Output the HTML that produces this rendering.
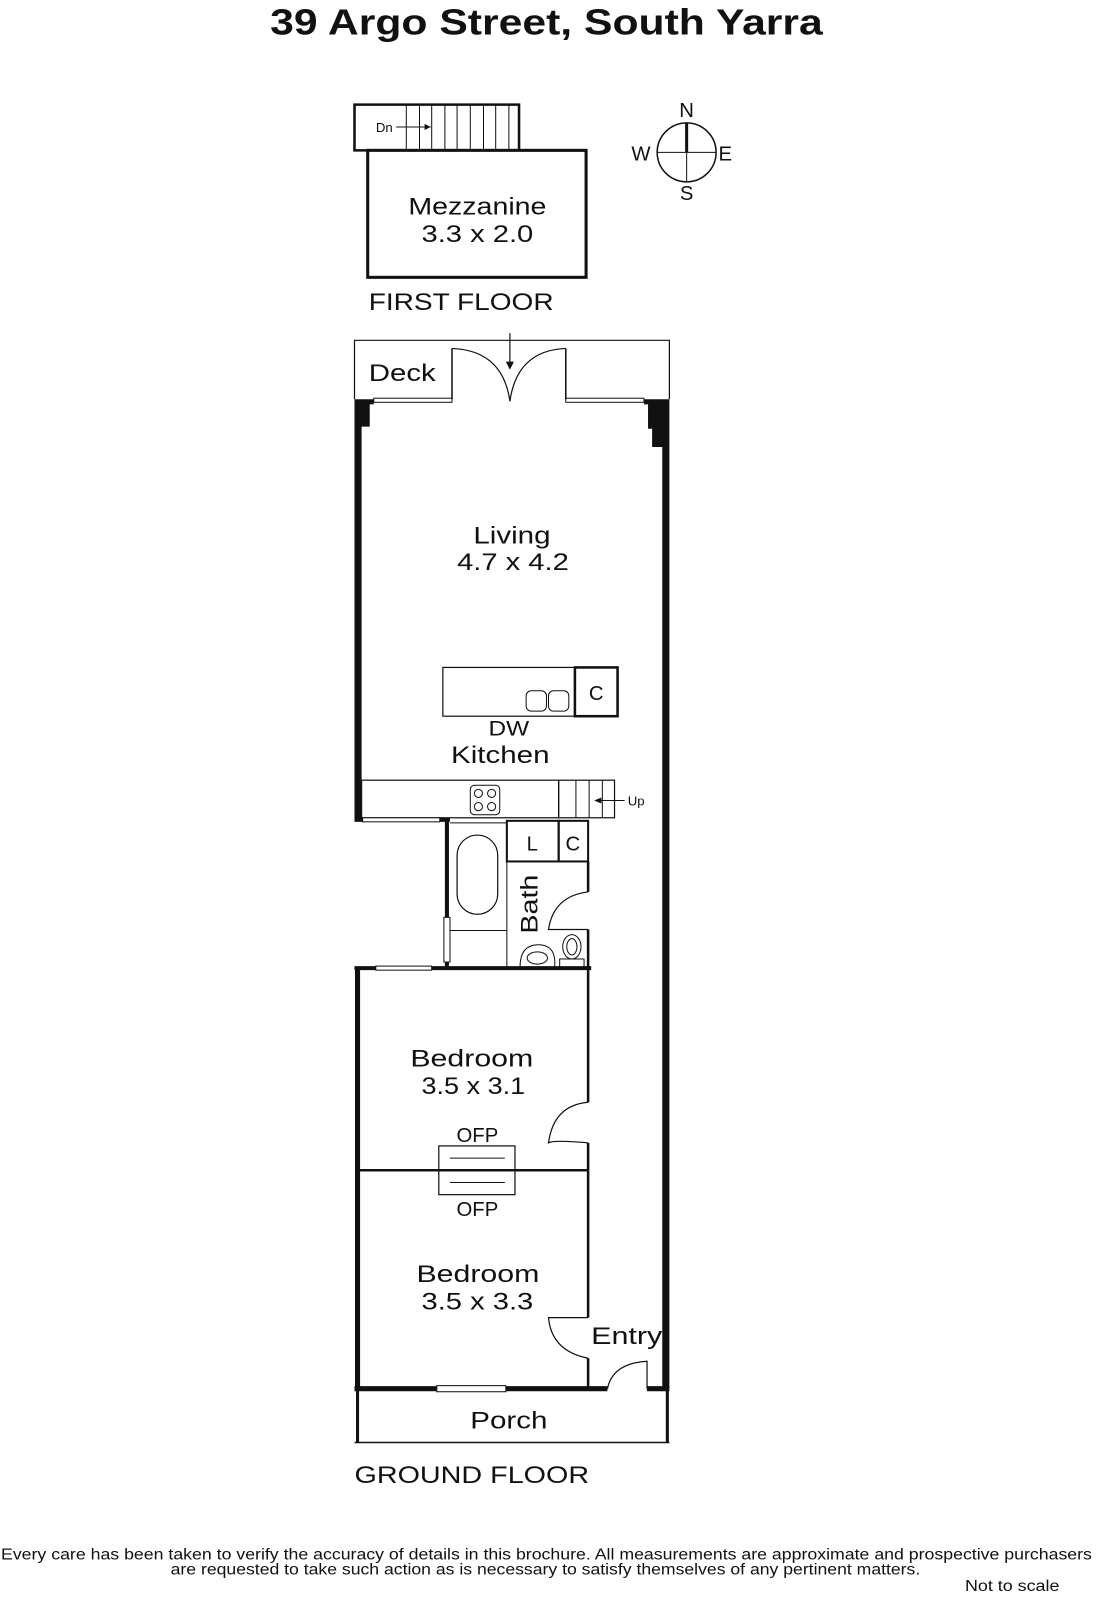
<!DOCTYPE html>
<html><head><meta charset="utf-8"><style>
html,body{margin:0;padding:0;background:#fff;}
svg{display:block;}
text{font-family:"Liberation Sans",sans-serif;fill:#111;}
</style></head><body>
<svg width="1097" height="1600" viewBox="0 0 1080 1575" preserveAspectRatio="none" xmlns="http://www.w3.org/2000/svg">
<g stroke="#111" fill="none">
<text x="266" y="34" font-size="36" font-weight="bold" stroke="none" textLength="544" lengthAdjust="spacingAndGlyphs">39 Argo Street, South Yarra</text>

<!-- Mezzanine -->
<polyline points="362,148 349,148 349,103 511,103 511,148" stroke-width="2.5"/>
<g stroke-width="1">
<line x1="400" y1="103" x2="400" y2="148"/><line x1="413" y1="103" x2="413" y2="148"/><line x1="425" y1="103" x2="425" y2="148"/><line x1="438" y1="103" x2="438" y2="148"/><line x1="450" y1="103" x2="450" y2="148"/><line x1="463" y1="103" x2="463" y2="148"/><line x1="476" y1="103" x2="476" y2="148"/><line x1="488" y1="103" x2="488" y2="148"/><line x1="501" y1="103" x2="501" y2="148"/>
<line x1="390" y1="125" x2="424" y2="125"/>
</g>
<polygon points="424,125 418,122 418,128" fill="#111" stroke="none"/>
<text x="370" y="130" font-size="13" stroke="none">Dn</text>
<rect x="362" y="148" width="215" height="125" stroke-width="3"/>
<text x="402" y="211" font-size="24" stroke="none" textLength="136" lengthAdjust="spacingAndGlyphs">Mezzanine</text>
<text x="415" y="238" font-size="24" stroke="none" textLength="110" lengthAdjust="spacingAndGlyphs">3.3 x 2.0</text>

<!-- Compass -->
<circle cx="676" cy="150" r="29" stroke-width="1.5"/>
<line x1="647" y1="150" x2="705" y2="150" stroke-width="1"/>
<line x1="676" y1="150" x2="676" y2="179" stroke-width="1"/>
<line x1="676" y1="121" x2="676" y2="150" stroke-width="3"/>
<text x="676" y="115" font-size="20" text-anchor="middle" stroke="none">N</text>
<text x="676" y="197" font-size="20" text-anchor="middle" stroke="none">S</text>
<text x="631" y="158" font-size="20" text-anchor="middle" stroke="none">W</text>
<text x="714" y="158" font-size="20" text-anchor="middle" stroke="none">E</text>

<text x="363" y="305" font-size="24" stroke="none" textLength="182" lengthAdjust="spacingAndGlyphs">FIRST FLOOR</text>

<!-- Deck -->
<polyline points="349,393 349,335 659,335 659,393" stroke-width="1.2"/>
<text x="363" y="375" font-size="24" stroke="none" textLength="66" lengthAdjust="spacingAndGlyphs">Deck</text>
<line x1="445" y1="343" x2="445" y2="393" stroke-width="1.5"/>
<line x1="557" y1="343" x2="557" y2="393" stroke-width="1.5"/>
<path d="M445,343 Q495,345 502,395 M557,343 Q509,345 502,395" stroke-width="1.2"/>
<line x1="502" y1="328" x2="502" y2="358" stroke-width="1.2"/>
<polygon points="502,364 498,356 506,356" fill="#111" stroke="none"/>
<g stroke-width="1"><rect x="368" y="392" width="77" height="4"/><rect x="557" y="392" width="77" height="4"/></g>
<polygon points="349,393 368,393 368,398 364,398 364,420 356,420 356,808 349,808" fill="#111" stroke="none"/>
<polygon points="634,393 659,393 659,1367 652,1367 652,440 642,440 642,422 638,422 638,398 634,398" fill="#111" stroke="none"/>

<text x="466" y="535" font-size="24" stroke="none" textLength="76" lengthAdjust="spacingAndGlyphs">Living</text>
<text x="450" y="561" font-size="24" stroke="none" textLength="110" lengthAdjust="spacingAndGlyphs">4.7 x 4.2</text>

<!-- Kitchen island -->
<rect x="436" y="657" width="130" height="48" stroke-width="1.2"/>
<rect x="566" y="657" width="42" height="48" stroke-width="2.5"/>
<text x="587" y="689" font-size="20" text-anchor="middle" stroke="none">C</text>
<rect x="518" y="680" width="20" height="20" rx="5" stroke-width="1"/>
<rect x="540" y="680" width="20" height="20" rx="5" stroke-width="1"/>
<text x="481" y="724" font-size="21" stroke="none" textLength="40" lengthAdjust="spacingAndGlyphs">DW</text>
<text x="444" y="751" font-size="24" stroke="none" textLength="97" lengthAdjust="spacingAndGlyphs">Kitchen</text>

<!-- Bench -->
<rect x="356" y="768" width="194" height="37" stroke-width="1.2"/>
<rect x="463" y="773" width="29" height="29" rx="4" stroke-width="1"/>
<g stroke-width="1"><circle cx="471" cy="781" r="4"/><circle cx="484" cy="781" r="4"/><circle cx="471" cy="794" r="4"/><circle cx="484" cy="794" r="4"/></g>
<rect x="550" y="768" width="55" height="37" stroke-width="1.2"/>
<g stroke-width="1"><line x1="567" y1="768" x2="567" y2="805"/><line x1="580" y1="768" x2="580" y2="805"/><line x1="593" y1="768" x2="593" y2="805"/>
<line x1="589" y1="788" x2="615" y2="788"/></g>
<polygon points="585,788 592,785 592,791" fill="#111" stroke="none"/>
<text x="618" y="793" font-size="13" stroke="none">Up</text>

<!-- wall at 808 -->
<line x1="349" y1="807" x2="443" y2="807" stroke-width="4"/>
<rect x="357" y="805" width="76" height="4" fill="#fff" stroke-width="1"/>
<line x1="440" y1="807" x2="440" y2="952" stroke-width="4"/>
<rect x="437" y="903" width="6" height="44" fill="#fff" stroke-width="1"/>
<line x1="443" y1="810" x2="499" y2="810" stroke-width="1"/>
<rect x="450" y="822" width="40" height="78" rx="20" stroke-width="1.2"/>
<line x1="443" y1="916" x2="499" y2="916" stroke-width="1"/>
<line x1="499" y1="808" x2="499" y2="952" stroke-width="1"/>
<rect x="499" y="808" width="51" height="40" stroke-width="2"/>
<rect x="550" y="808" width="29" height="40" stroke-width="2"/>
<text x="524" y="837" font-size="20" text-anchor="middle" stroke="none">L</text>
<text x="564" y="837" font-size="20" text-anchor="middle" stroke="none">C</text>
<text x="0" y="0" font-size="24" text-anchor="middle" stroke="none" transform="translate(529,890) rotate(-90)" textLength="58" lengthAdjust="spacingAndGlyphs">Bath</text>
<line x1="579" y1="848" x2="579" y2="878" stroke-width="2.5"/>
<path d="M579,878 Q545,882 540,915 L579,915" stroke-width="1.2"/>
<line x1="579" y1="915" x2="579" y2="952" stroke-width="2.5"/>
<path d="M512,952 Q512,930 530,930 Q548,930 546,952 Z" stroke-width="1"/>
<ellipse cx="529" cy="943" rx="10" ry="6" stroke-width="1"/>
<ellipse cx="563" cy="932" rx="9" ry="12" stroke-width="1"/>
<ellipse cx="563" cy="932" rx="5" ry="8" stroke-width="1"/>
<rect x="551" y="944" width="24" height="8" stroke-width="1"/>

<!-- Bedroom 1 -->
<line x1="349" y1="953" x2="582" y2="953" stroke-width="4"/>
<rect x="370" y="951" width="55" height="4" fill="#fff" stroke-width="1"/>
<line x1="352" y1="953" x2="352" y2="1367" stroke-width="5"/>
<line x1="579" y1="953" x2="579" y2="1085" stroke-width="2.5"/>
<path d="M579,1085 Q545,1088 540,1125 Q545,1122 579,1125" stroke-width="1.2"/>
<line x1="579" y1="1125" x2="579" y2="1152" stroke-width="2.5"/>
<text x="404" y="1050" font-size="24" stroke="none" textLength="121" lengthAdjust="spacingAndGlyphs">Bedroom</text>
<text x="415" y="1077" font-size="24" stroke="none" textLength="102" lengthAdjust="spacingAndGlyphs">3.5 x 3.1</text>
<rect x="432" y="1128" width="75" height="48" stroke-width="1.2"/>
<line x1="443" y1="1140" x2="497" y2="1140" stroke-width="1"/>
<line x1="443" y1="1164" x2="497" y2="1164" stroke-width="1"/>
<line x1="352" y1="1152" x2="579" y2="1152" stroke-width="2.5"/>
<text x="470" y="1124" font-size="20" text-anchor="middle" stroke="none">OFP</text>
<text x="470" y="1197" font-size="20" text-anchor="middle" stroke="none">OFP</text>

<!-- Bedroom 2 -->
<text x="410" y="1262" font-size="24" stroke="none" textLength="121" lengthAdjust="spacingAndGlyphs">Bedroom</text>
<text x="415" y="1289" font-size="24" stroke="none" textLength="110" lengthAdjust="spacingAndGlyphs">3.5 x 3.3</text>
<line x1="579" y1="1152" x2="579" y2="1297" stroke-width="2.5"/>
<path d="M579,1297 L540,1297 Q543,1330 579,1337" stroke-width="1.2"/>
<line x1="579" y1="1337" x2="579" y2="1367" stroke-width="2.5"/>
<text x="582" y="1323" font-size="24" stroke="none" textLength="70" lengthAdjust="spacingAndGlyphs">Entry</text>
<path d="M598,1367 Q603,1342 637,1340 L637,1367" stroke-width="1.2"/>
<line x1="349" y1="1367" x2="598" y2="1367" stroke-width="5"/>
<rect x="430" y="1364" width="68" height="6" fill="#fff" stroke-width="1"/>
<line x1="637" y1="1367" x2="659" y2="1367" stroke-width="5"/>

<!-- Porch -->
<line x1="352" y1="1367" x2="352" y2="1420" stroke-width="3"/>
<line x1="657" y1="1367" x2="657" y2="1420" stroke-width="3"/>
<line x1="349" y1="1420" x2="659" y2="1420" stroke-width="1.5"/>
<text x="463" y="1406" font-size="24" stroke="none" textLength="76" lengthAdjust="spacingAndGlyphs">Porch</text>

<text x="349" y="1460" font-size="24" stroke="none" textLength="231" lengthAdjust="spacingAndGlyphs">GROUND FLOOR</text>

<text x="1" y="1535" font-size="15" stroke="none" textLength="1074" lengthAdjust="spacingAndGlyphs">Every care has been taken to verify the accuracy of details in this brochure.  All measurements are approximate and prospective purchasers</text>
<text x="168" y="1550" font-size="15" stroke="none" textLength="738" lengthAdjust="spacingAndGlyphs">are requested to take such action as is necessary to satisfy themselves of any pertinent matters.</text>
<text x="950" y="1566" font-size="15" stroke="none" textLength="93" lengthAdjust="spacingAndGlyphs">Not to scale</text>
</g>
</svg>
</body></html>
